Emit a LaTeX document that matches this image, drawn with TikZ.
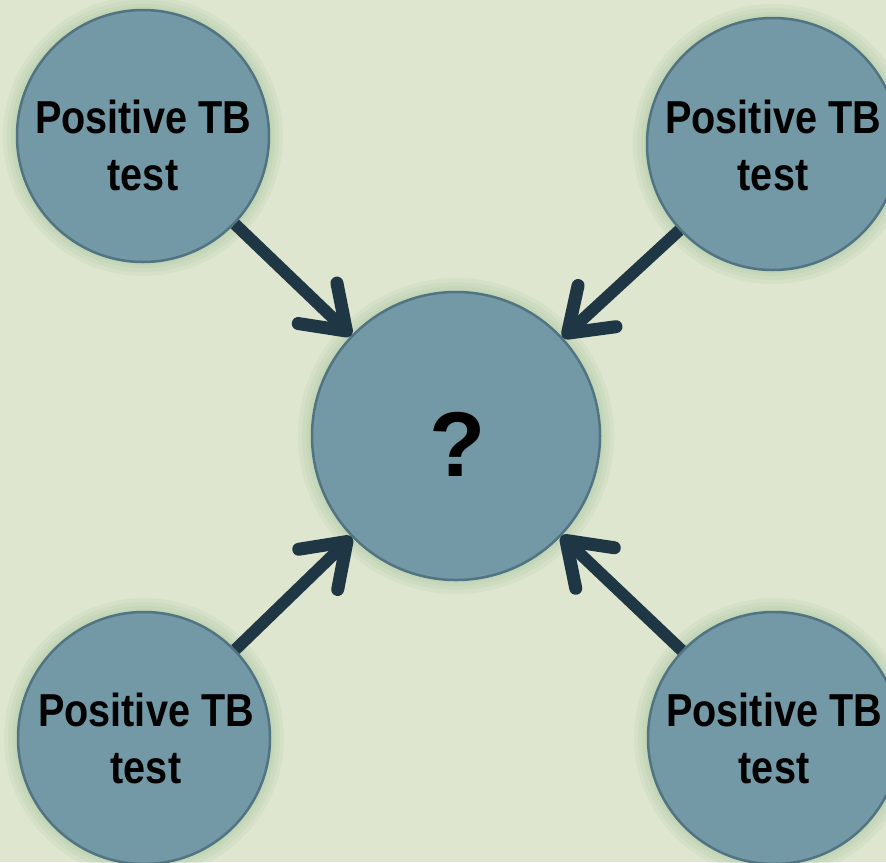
\documentclass[tikz,border=0pt]{standalone}
\usepackage{fontspec}
\setmainfont{Liberation Sans}
\usetikzlibrary{arrows.meta}
\definecolor{bgc}{HTML}{DFE6CF}
\definecolor{fillc}{HTML}{7399A6}
\definecolor{edgec}{HTML}{527382}
\definecolor{glowc}{HTML}{A9C8A4}
\definecolor{arrc}{HTML}{1F3744}
\newcommand{\nline}[1]{\scalebox{0.9}[1.05]{#1}}
\tikzset{
  bubble/.style={circle, draw=edgec, line width=2.5pt, fill=fillc, minimum size=#1, inner sep=0pt},
  lbl/.style={font=\bfseries\fontsize{44}{57}\selectfont, align=center, text=black},
  link/.style={draw=arrc, line width=12pt, -{Straight Barb[length=40pt, width=56pt, line width=13pt, round]}}
}
\newcommand{\glowat}[2]{%
  \foreach \g in {14,10,6,3} {\fill[glowc, opacity=0.18] (#1) circle[radius=#2+\g];}%
}
\begin{document}
\begin{tikzpicture}[x=1pt,y=-1pt]
\fill[bgc] (0,0) rectangle (886,862);
\useasboundingbox (0,0) rectangle (886,862);
\glowat{143,136}{126}
\glowat{773,144}{126}
\glowat{144,738}{126}
\glowat{774,738}{126}
\glowat{456,436}{144}
\node[bubble=252pt] (tl) at (143,136) {};
\node[bubble=252pt] (tr) at (773,144) {};
\node[bubble=252pt] (bl) at (144,738) {};
\node[bubble=252pt] (br) at (774,738) {};
\node[bubble=288pt] (c) at (456,436) {};
\node[lbl] (tlt) at (143,145) {\nline{Positive TB}\\\nline{test}};
\node[lbl] (trt) at (773,145) {\nline{Positive TB}\\\nline{test}};
\node[lbl] (blt) at (146,738) {\nline{Positive TB}\\\nline{test}};
\node[lbl] (brt) at (774,738) {\nline{Positive TB}\\\nline{test}};
\node[font=\bfseries\fontsize{92}{100}\selectfont] (q) at (458,444) {?};
\draw[link] (tl) -- (c);
\draw[link] (tr) -- (c);
\draw[link] (bl) -- (c);
\draw[link] (br) -- (c);
\end{tikzpicture}
\end{document}
